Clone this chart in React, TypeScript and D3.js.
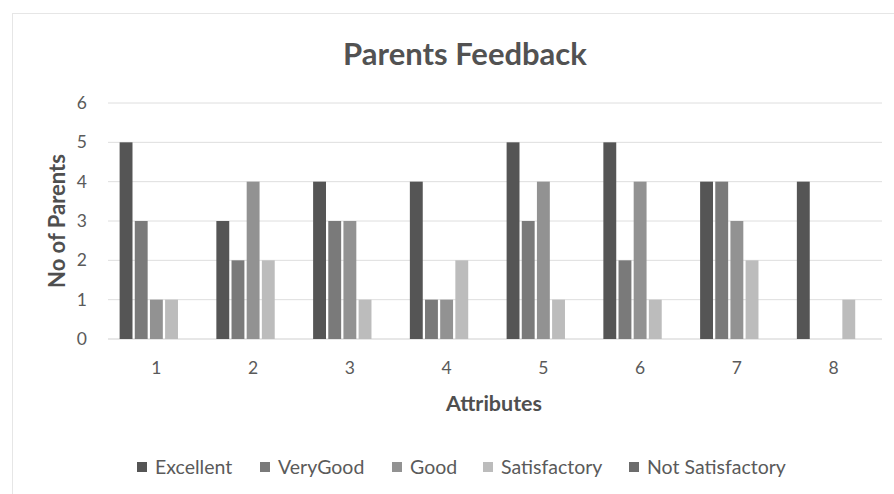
import React from 'react';
import * as d3 from 'd3';

// chart values
const attributes = ['1', '2', '3', '4', '5', '6', '7', '8'];
const seriesNames = ['Excellent', 'VeryGood', 'Good', 'Satisfactory', 'Not Satisfactory'];
const excellent = [5, 3, 4, 4, 5, 5, 4, 4];
const veryGood = [3, 2, 3, 1, 3, 2, 4, 0];
const good = [1, 4, 3, 1, 4, 4, 3, 0];
const satisfactory = [1, 2, 1, 2, 1, 1, 2, 1];
const notSatisfactory = [0, 0, 0, 0, 0, 0, 0, 0];
const yTicks = [0, 1, 2, 3, 4, 5, 6];
const seriesColors = ['#555555', '#7a7a7a', '#929292', '#bcbcbc', '#6c6c6c'];

const seriesValues = [excellent, veryGood, good, satisfactory, notSatisfactory];

const W = 894;
const H = 494;
const font = 'Lato, "Open Sans", sans-serif';

const App = () => {
  const x = d3.scaleBand<string>().domain(attributes).range([108, 882]).paddingInner(0.24).paddingOuter(0.12);
  const xSub = d3.scaleBand<string>().domain(seriesNames).range([0, x.bandwidth()]).paddingInner(0.15);
  const y = d3.scaleLinear().domain([0, 6]).range([339, 103]);

  // legend layout: square + label, positions along the bottom
  const legendX = [137, 260, 392, 483, 629];

  return (
    <svg width={W} height={H} style={{ position: 'absolute', left: 0, top: 0, background: '#fff' }}>
      {/* faint chart border */}
      <line x1={12} x2={W} y1={13.5} y2={13.5} stroke="#e6e6e6" />
      <line x1={12.5} x2={12.5} y1={13} y2={H} stroke="#e6e6e6" />

      <text x={465} y={65} textAnchor="middle" fontFamily={font} fontWeight="bold" fontSize={31} fill="#525252">
        Parents Feedback
      </text>

      {/* gridlines + y ticks */}
      {yTicks.map((t) => (
        <g key={t}>
          <line x1={108} x2={882} y1={y(t)} y2={y(t)} stroke={t === 0 ? '#cfcfcf' : '#dedede'} strokeWidth={1} />
          <text x={87} y={y(t)} dy="0.35em" textAnchor="end" fontFamily={font} fontSize={17.5} fill="#5a5a5a">
            {t}
          </text>
        </g>
      ))}

      {/* bars */}
      {attributes.map((a, i) => (
        <g key={a} transform={`translate(${x(a)},0)`}>
          {seriesNames.map((s, j) => {
            const v = seriesValues[j][i];
            if (!v) return null;
            return (
              <rect
                key={s}
                x={xSub(s)}
                y={y(v)}
                width={xSub.bandwidth()}
                height={y(0) - y(v)}
                fill={seriesColors[j]}
              />
            );
          })}
          <text
            x={x.bandwidth() / 2}
            y={368}
            dy="0.35em"
            textAnchor="middle"
            fontFamily={font}
            fontSize={17.5}
            fill="#5a5a5a"
          >
            {a}
          </text>
        </g>
      ))}

      {/* axis titles */}
      <text
        transform={`translate(65,221) rotate(-90)`}
        textAnchor="middle"
        fontFamily={font}
        fontWeight="bold"
        fontSize={22}
        fill="#4f4f4f"
      >
        No of Parents
      </text>
      <text x={494} y={411} textAnchor="middle" fontFamily={font} fontWeight="bold" fontSize={21.5} fill="#4f4f4f">
        Attributes
      </text>

      {/* legend */}
      {seriesNames.map((s, j) => (
        <g key={s} transform={`translate(${legendX[j]},467)`}>
          <rect x={0} y={-5} width={10} height={10} fill={seriesColors[j]} />
          <text x={18} y={0} dy="0.35em" fontFamily={font} fontSize={19.5} fill="#5a5a5a">
            {s}
          </text>
        </g>
      ))}
    </svg>
  );
};

export default App;
